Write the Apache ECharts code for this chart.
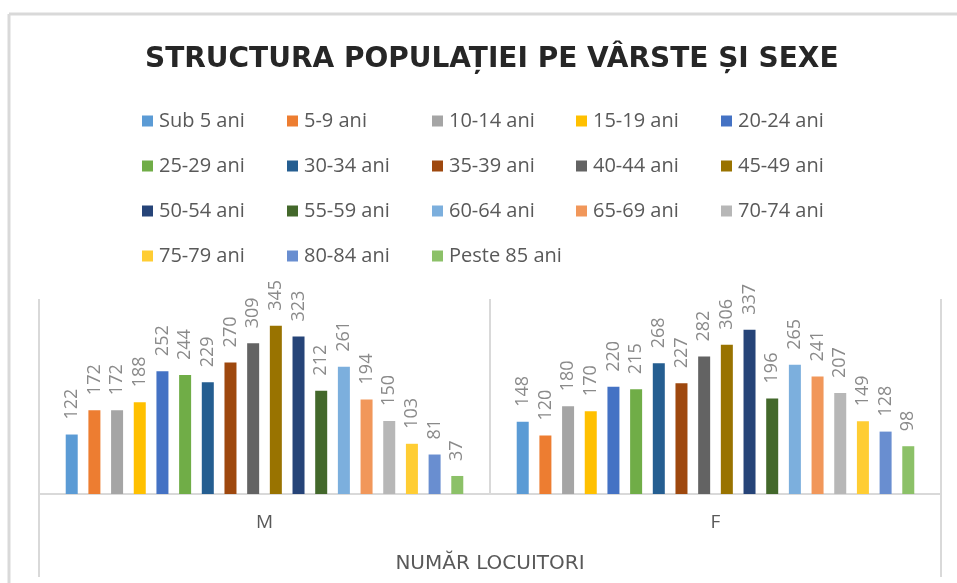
<!DOCTYPE html>
<html>
  <head>
    <meta charset="UTF-8" />
    <title>Structura populatiei</title>
    <style>
      html, body { margin: 0; padding: 0; background: #fff; }
      #main { width: 957px; height: 583px; }
    </style>
  </head>
  <body>
    <div id="main"></div>
  </body>
  <script src="https://cdn.jsdelivr.net/npm/echarts@6/dist/echarts.min.js"></script>
  <script>
    const categories = ['M', 'F']

    const groups = [
      'Sub 5 ani', '5-9 ani', '10-14 ani', '15-19 ani', '20-24 ani',
      '25-29 ani', '30-34 ani', '35-39 ani', '40-44 ani', '45-49 ani',
      '50-54 ani', '55-59 ani', '60-64 ani', '65-69 ani', '70-74 ani',
      '75-79 ani', '80-84 ani', 'Peste 85 ani',
    ]

    const valuesM = [122, 172, 172, 188, 252, 244, 229, 270, 309, 345, 323, 212, 261, 194, 150, 103, 81, 37]
    const valuesF = [148, 120, 180, 170, 220, 215, 268, 227, 282, 306, 337, 196, 265, 241, 207, 149, 128, 98]

    const colors = [
      '#5B9BD5', '#ED7D31', '#A5A5A5', '#FFC000', '#4472C4',
      '#70AD47', '#255E91', '#9E480E', '#636363', '#997300',
      '#264478', '#43682B', '#7CAFDD', '#F1975A', '#B7B7B7',
      '#FFCD33', '#698ED0', '#8CC168',
    ]

    const lineColor = '#d9d9d9'
    const legendCols = 5
    const legendLeft = [137, 282, 427, 571, 716]

    // one vertical legend per column so columns line up like in Excel
    let legends = []
    for (let c = 0; c < legendCols; c++) {
      legends.push({
        orient: 'vertical',
        left: legendLeft[c],
        top: 106,
        itemWidth: 11,
        itemHeight: 11,
        itemGap: 25,
        icon: 'rect',
        data: groups.filter((g, i) => i % legendCols === c),
        textStyle: {
          fontFamily: 'Open Sans',
          fontSize: 20,
          lineHeight: 20,
          color: '#595959',
          padding: [0, 0, 0, 1],
        },
      })
    }

    let series = groups.map((name, i) => ({
      name: name,
      type: 'bar',
      data: [valuesM[i], valuesF[i]],
      barWidth: 12,
      barGap: '89%',
      itemStyle: { color: colors[i] },
      label: {
        show: true,
        position: 'top',
        rotate: 90,
        align: 'left',
        verticalAlign: 'middle',
        distance: 15,
        fontFamily: 'Open Sans',
        fontSize: 18,
        color: '#8a8a8a',
      },
    }))

    let myChart = echarts.init(document.getElementById('main'))
    myChart.setOption({
      backgroundColor: '#fff',
      animation: false,
      title: {
        text: 'STRUCTURA POPULAȚIEI PE VÂRSTE ȘI SEXE',
        left: 140,
        top: 41,
        textStyle: {
          fontFamily: 'DejaVu Sans',
          fontWeight: 'bold',
          fontSize: 28,
          color: '#262626',
        },
      },
      legend: legends,
      grid: {
        left: 39,
        right: 16,
        top: 299,
        bottom: 89,
      },
      xAxis: {
        type: 'category',
        data: categories,
        name: 'NUMĂR LOCUITORI',
        nameLocation: 'middle',
        nameGap: 60,
        nameTextStyle: {
          fontFamily: 'DejaVu Sans',
          fontSize: 20,
          color: '#595959',
        },
        axisLine: { lineStyle: { color: lineColor, width: 2 } },
        axisTick: { show: false },
        axisLabel: {
          margin: 19,
          fontFamily: 'Open Sans',
          fontSize: 19,
          color: '#595959',
        },
        splitLine: { show: true, lineStyle: { color: lineColor, width: 2 } },
      },
      yAxis: {
        type: 'value',
        min: 0,
        max: 400,
        show: false,
        splitLine: { show: false },
      },
      graphic: [
        // outer frame of the original screenshot
        { type: 'line', shape: { x1: 9, y1: 14, x2: 957, y2: 14 }, style: { stroke: lineColor, lineWidth: 3 } },
        { type: 'line', shape: { x1: 9, y1: 14, x2: 9, y2: 583 }, style: { stroke: lineColor, lineWidth: 3 } },
        // box lines around the axis labels
        { type: 'line', shape: { x1: 39, y1: 494, x2: 39, y2: 577 }, style: { stroke: lineColor, lineWidth: 2 } },
        { type: 'line', shape: { x1: 941, y1: 494, x2: 941, y2: 577 }, style: { stroke: lineColor, lineWidth: 2 } },
      ],
      series: series,
    })
  </script>
</html>
